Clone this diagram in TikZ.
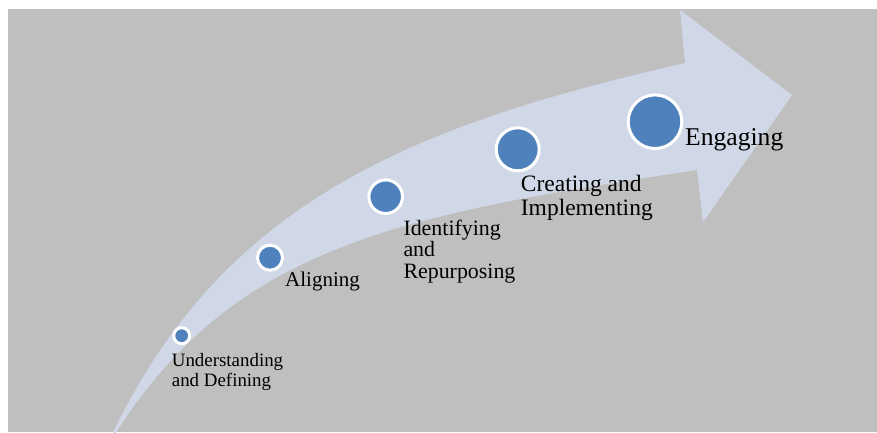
\documentclass[tikz,border=0pt]{standalone}
\usepackage{fontspec}
\setmainfont{Liberation Serif}
\definecolor{bggray}{HTML}{BFBFBF}
\definecolor{bandfill}{HTML}{D0D8E8}
\definecolor{stepblue}{HTML}{4F81BD}

\begin{document}
\begin{tikzpicture}[
    x=1pt, y=-1pt,
    dot/.style={circle, fill=stepblue, draw=white, line width=3pt, inner sep=0pt},
    lbl/.style={anchor=base west, align=left, inner sep=0pt, text=black}
  ]
    \useasboundingbox (0,0) rectangle (877,432);
    \fill[white] (0,0) rectangle (877,432);
    \fill[bggray] (8,9) rectangle (877,432);
    \fill[bandfill] (111,437) .. controls (225,195) and (425,123) .. (685,63)
      -- (680,10) -- (792,95) -- (703,222) -- (697,170)
      .. controls (397,215) and (233,246) .. (113,437) -- cycle;
    \node[dot, minimum size=16pt] (understand) at (181.7,335.7) {};
    \node[dot, minimum size=25pt] (align) at (270,257.7) {};
    \node[dot, minimum size=33.6pt] (identify) at (385.7,196.7) {};
    \node[dot, minimum size=43pt] (create) at (517.7,149.3) {};
    \node[dot, minimum size=53.6pt] (engage) at (655,121.7) {};
    \node[lbl, font=\fontsize{18.9}{20}\selectfont] (understandtxt) at (171.7,386) {Understanding\\and Defining};
    \node[lbl, font=\fontsize{21}{22}\selectfont] (aligntxt) at (285,286.7) {Aligning};
    \node[lbl, font=\fontsize{21.9}{21.5}\selectfont] (identifytxt) at (403.3,278) {Identifying\\and\\Repurposing};
    \node[lbl, font=\fontsize{23.5}{23.5}\selectfont] (createtxt) at (520.7,215) {Creating and\\Implementing};
    \node[lbl, font=\fontsize{25.6}{26}\selectfont] (engagetxt) at (685,145.7) {Engaging};
  \end{tikzpicture}
\end{document}
